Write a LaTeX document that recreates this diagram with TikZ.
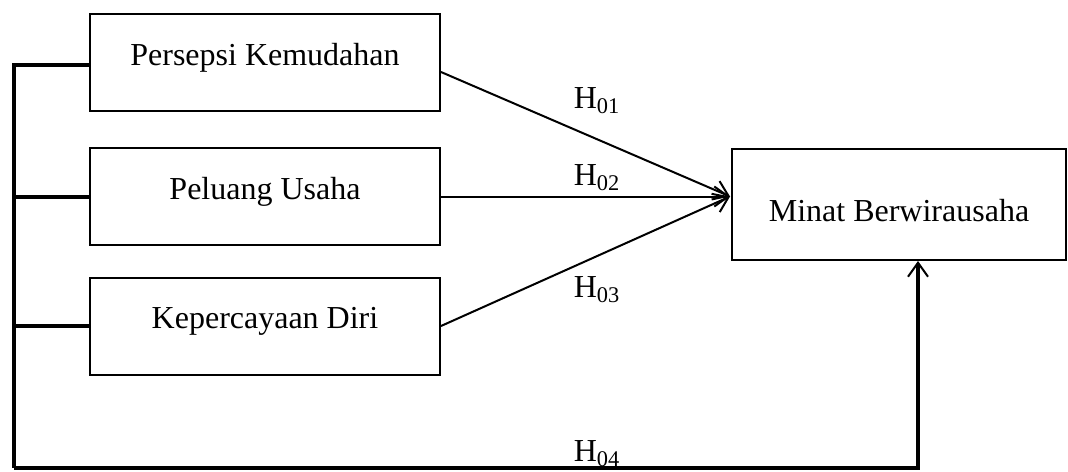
\documentclass[tikz,border=0pt]{standalone}
\usepackage{fontspec}
\setmainfont{Liberation Serif}
\usetikzlibrary{arrows.meta, positioning, calc}
\tikzset{
    varbox/.style={
        rectangle, draw=black, line width=1pt, minimum width=175pt, minimum height=48.5pt
    },
    varlabel/.style={
        font=\fontsize{16}{19}\selectfont, inner sep=0pt
    },
    hlabel/.style={
        font=\fontsize{16}{19}\selectfont, inner sep=0pt
    },
    link/.style={
        -{Straight Barb[length=7pt,width=10pt]}, line width=1pt
    },
    bus/.style={
        line width=2pt
    }
}
\begin{document}
\begin{tikzpicture}[x=0.5pt, y=-0.5pt]
    \useasboundingbox (0,0) rectangle (1068,471);

    \node[varbox] (pk) at (265,62) {};
    \node[varlabel, below=15pt of pk.north] (tpk) {Persepsi Kemudahan};

    \node[varbox] (pu) at (265,196.5) {};
    \node[varlabel, below=15pt of pu.north] (tpu) {Peluang Usaha};

    \node[varbox] (kd) at (265,326) {};
    \node[varlabel, below=15pt of kd.north] (tkd) {Kepercayaan Diri};

    \node[varbox, minimum width=167pt, minimum height=55.5pt] (mb) at (899,204.5) {};
    \node[varlabel] (tmb) at ($(mb.center)+(0,6)$) {Minat Berwirausaha};

    \coordinate (tip) at ($(mb.west)+(-1,-8)$);
    \coordinate (bl) at (14,468);
    \coordinate (mbin) at (918,261);

    \draw[link] ($(pk.east)+(0,10)$) -- (tip);
    \draw[link] (pu.east) -- (tip);
    \draw[link] (kd.east) -- (tip);

    \draw[bus] ($(pk.west)+(0,3)$) -| (bl);
    \draw[bus] (pu.west) -- (pu.west -| bl);
    \draw[bus] (kd.west) -- (kd.west -| bl);
    \draw[bus, -{Straight Barb[length=7pt,width=10pt,line width=1pt]}] (bl) -| (mbin);

    \node[hlabel] (h1) at (597,101) {H\textsubscript{01}};
    \node[hlabel] (h2) at (597,178) {H\textsubscript{02}};
    \node[hlabel] (h3) at (597,290) {H\textsubscript{03}};
    \node[hlabel] (h4) at (597,454) {H\textsubscript{04}};
\end{tikzpicture}
\end{document}
